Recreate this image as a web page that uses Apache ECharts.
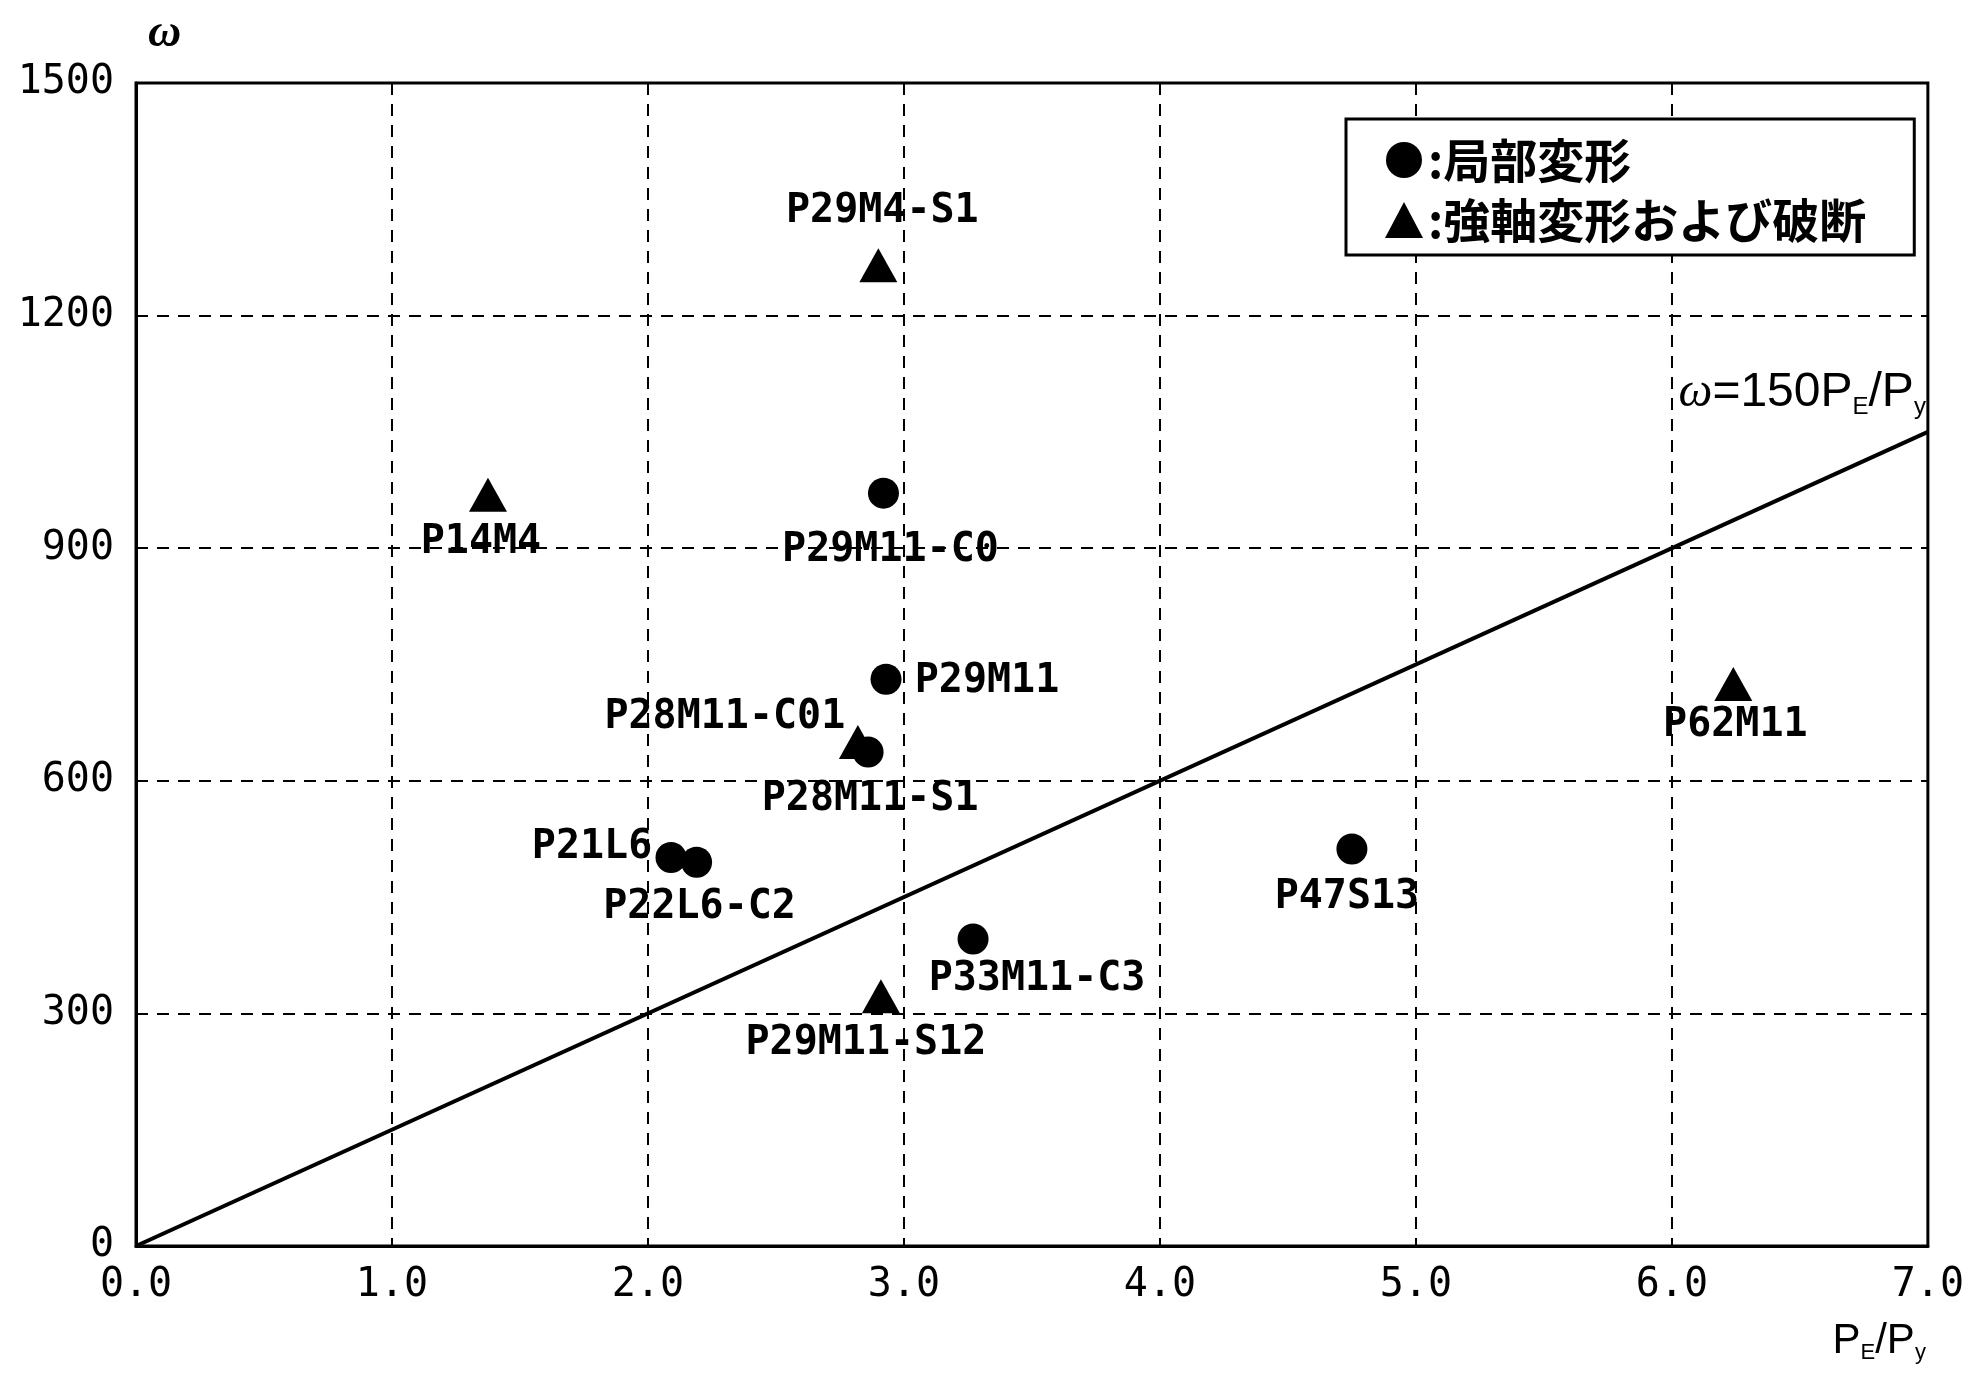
<!DOCTYPE html>
<html>
<head>
<meta charset="utf-8">
<script src="https://cdn.jsdelivr.net/npm/echarts@6/dist/echarts.min.js"></script>
<style>
  html, body { margin: 0; padding: 0; background: #fff; }
  #chart { width: 1967px; height: 1374px; }
</style>
</head>
<body>
<div id="chart"></div>
<script>
// Axis ranges and tick spacing
const xMin = 0, xMax = 7, xStep = 1;
const yMin = 0, yMax = 1500, yStep = 300;

// Specimens that failed by local buckling (●)
const localNames = ['P29M11-C0', 'P29M11', 'P28M11-S1', 'P21L6', 'P22L6-C2', 'P33M11-C3', 'P47S13'];
const localX     = [2.92, 2.93, 2.86, 2.09, 2.19, 3.27, 4.75];
const localW     = [971, 731, 637, 501, 495, 396, 512];

// Specimens that failed by strong-axis deformation / fracture (▲)
const strongNames = ['P29M4-S1', 'P14M4', 'P28M11-C01', 'P29M11-S12', 'P62M11'];
const strongX     = [2.90, 1.375, 2.82, 2.91, 6.24];
const strongW     = [1265, 969, 650, 322, 725];

// Reference line ω = 150 PE/Py
const refSlope = 150;
const refX = [0, 7];

// Label placement (pixel offsets from each marker)
const localLabelOffsets  = [[7, 57], [101, 2], [2, 47], [-79, -10], [3, 45], [64, 41], [-5, 49]];
const strongLabelOffsets = [[4, -54], [-7, 48], [-133, -24], [-15, 47], [2, 42]];

const monoFont = '"DejaVu Sans Mono", "Liberation Mono", monospace';

function pointData(xs, ws, names, offsets) {
  return xs.map((x, i) => ({
    name: names[i],
    value: [x, ws[i]],
    label: { offset: offsets[i] }
  }));
}

const pointLabel = {
  show: true,
  position: 'inside',
  formatter: p => p.name,
  fontFamily: monoFont,
  fontWeight: 'bold',
  fontSize: 40,
  color: '#000',
  opacity: 1,
  textBorderWidth: 0,
  align: 'center',
  verticalAlign: 'middle'
};

const chart = echarts.init(document.getElementById('chart'), null, { renderer: 'canvas' });

chart.setOption({
  animation: false,
  backgroundColor: '#fff',
  grid: {
    left: 136, top: 83, right: 25, bottom: 128,
    show: true, borderColor: '#000', borderWidth: 3
  },
  legend: {
    orient: 'vertical',
    left: 1346, top: 119,
    padding: [16, 48, 10, 39],
    itemGap: 10,
    itemWidth: 38, itemHeight: 36,
    backgroundColor: '#fff',
    borderColor: '#000', borderWidth: 3,
    formatter: n => ':' + n,
    textStyle: {
      fontFamily: '"Noto Sans CJK JP", sans-serif',
      fontWeight: 'bold', fontSize: 47, lineHeight: 50, color: '#000'
    },
    data: [
      { name: '局部変形', icon: 'circle', itemStyle: { color: '#000', opacity: 1 } },
      { name: '強軸変形および破断', icon: 'triangle', itemStyle: { color: '#000', opacity: 1 } }
    ]
  },
  xAxis: {
    type: 'value', min: xMin, max: xMax, interval: xStep,
    axisLine: { show: true, lineStyle: { color: '#000', width: 3 } },
    axisTick: { show: false },
    splitLine: { show: true, lineStyle: { color: '#000', width: 2, type: [12, 9] } },
    axisLabel: {
      formatter: v => v.toFixed(1),
      margin: 19,
      fontFamily: monoFont,
      fontSize: 40, lineHeight: 42, color: '#000',
      showMaxLabel: true, showMinLabel: true
    },
    name: '{a|P}{s|E}{a|/P}{s|y}',
    nameLocation: 'end',
    nameGap: -2,
    nameTextStyle: {
      align: 'right', verticalAlign: 'top',
      padding: [72, 0, 0, 0],
      rich: {
        a: { fontFamily: '"Liberation Sans", sans-serif', fontSize: 42, lineHeight: 46, color: '#000' },
        s: { fontFamily: '"Liberation Sans", sans-serif', fontSize: 22, lineHeight: 22, verticalAlign: 'bottom', color: '#000' }
      }
    }
  },
  yAxis: {
    type: 'value', min: yMin, max: yMax, interval: yStep,
    axisLine: { show: true, lineStyle: { color: '#000', width: 3 } },
    axisTick: { show: false },
    splitLine: { show: true, lineStyle: { color: '#000', width: 2, type: [12, 9] } },
    axisLabel: {
      formatter: v => String(v),
      margin: 22,
      fontFamily: monoFont,
      fontSize: 40, color: '#000'
    },
    name: 'ω',
    nameLocation: 'end',
    nameGap: 26,
    nameTextStyle: {
      fontFamily: '"Liberation Serif", serif',
      fontStyle: 'italic', fontWeight: 'bold',
      fontSize: 46, color: '#000',
      align: 'left', padding: [0, 0, 0, 12]
    }
  },
  series: [
    {
      type: 'line',
      name: 'ω=150PE/Py',
      data: refX.map(x => [x, refSlope * x]),
      symbol: 'none',
      silent: true,
      z: 1,
      lineStyle: { color: '#000', width: 4 }
    },
    {
      // annotation anchored at the end of the reference line
      type: 'scatter',
      name: 'ref-label',
      data: [[refX[1], refSlope * refX[1]]],
      symbolSize: 0.1,
      silent: true,
      itemStyle: { color: 'rgba(0,0,0,0)', opacity: 1 },
      label: {
        show: true,
        position: 'inside',
        align: 'right',
        verticalAlign: 'middle',
        offset: [-2, -39],
        opacity: 1,
        formatter: '{w|ω}{a|=150P}{s|E}{a|/P}{s|y}',
        rich: {
          w: { fontFamily: '"Liberation Serif", serif', fontStyle: 'italic', fontSize: 48, lineHeight: 52, color: '#000' },
          a: { fontFamily: '"Liberation Sans", sans-serif', fontSize: 48, lineHeight: 52, color: '#000' },
          s: { fontFamily: '"Liberation Sans", sans-serif', fontSize: 24, lineHeight: 24, verticalAlign: 'bottom', color: '#000' }
        }
      }
    },
    {
      type: 'scatter',
      name: '局部変形',
      symbol: 'circle',
      symbolSize: 31,
      z: 3,
      itemStyle: { color: '#000', opacity: 1 },
      label: pointLabel,
      data: pointData(localX, localW, localNames, localLabelOffsets)
    },
    {
      type: 'scatter',
      name: '強軸変形および破断',
      symbol: 'triangle',
      symbolSize: [38, 34],
      z: 3,
      itemStyle: { color: '#000', opacity: 1 },
      label: pointLabel,
      data: pointData(strongX, strongW, strongNames, strongLabelOffsets)
    }
  ]
});
</script>
</body>
</html>
